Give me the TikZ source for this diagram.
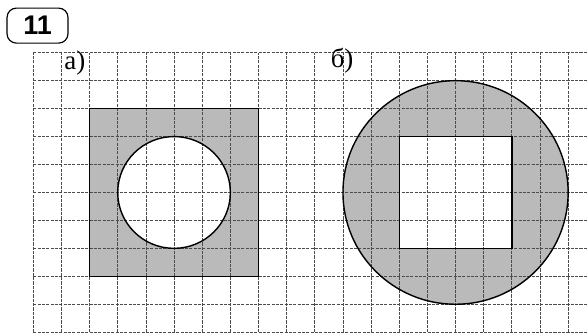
\documentclass[tikz,border=0pt]{standalone}
\usepackage{fontspec}
\setmainfont{Liberation Serif}
\newfontfamily\numfont{Liberation Sans}

\begin{document}
\begin{tikzpicture}[x=0.8445cm,y=0.8385cm]
\tikzset{
  gridline/.style={draw=black!70,line width=0.65pt,dash pattern=on 2.6pt off 1.1pt},
  shaded/.style={fill=black!27,even odd rule},
  outline/.style={draw=black,line width=1.2pt},
  partlabel/.style={inner sep=0pt,font=\fontsize{23}{25}\selectfont},
  taskbox/.style={draw,line width=1pt,rounded corners=8pt,minimum width=1.83cm,minimum height=1.05cm,inner sep=0pt,font=\numfont\bfseries\fontsize{23}{24}\selectfont}
}
\useasboundingbox[fill=white] (-1.183,-0.1) rectangle (19.67,11.886);
% shaded parts
\fill[shaded] (2,2) rectangle (8,8) (5,5) circle[radius=2];
\fill[shaded] (15,5) circle[radius=4] (13,3) rectangle (17,7);
% squared paper
\foreach \i in {0,...,19}
  \draw[gridline] (\i,0) -- (\i,10);
\foreach \j in {0,...,10}
  \draw[gridline] (0,\j) -- (19.67,\j);
% outlines
\draw[outline] (2,2) rectangle (8,8);
\draw[outline] (5,5) circle[radius=2];
\draw[outline] (15,5) circle[radius=4];
\draw[outline] (13,3) rectangle (17,7);
% labels
\node[taskbox] (task) at (0.15,10.97) {11};
\node[partlabel] (part_a) at (1.48,9.63) {а)};
\node[partlabel] (part_b) at (10.97,9.70) {б)};
\end{tikzpicture}
\end{document}
